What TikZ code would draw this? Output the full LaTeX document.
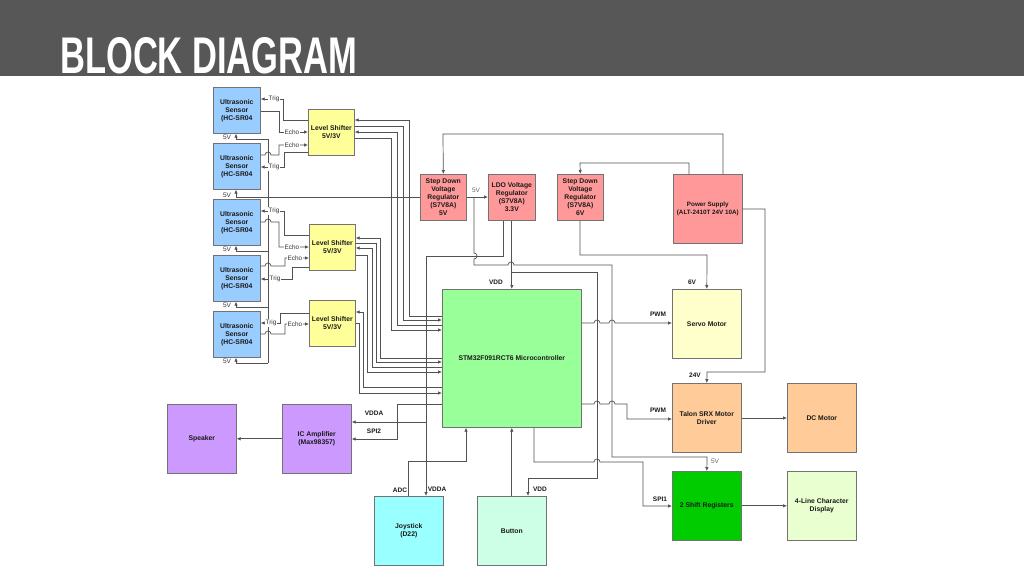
\documentclass[tikz,border=0pt]{standalone}
\usepackage{fontspec}
\setmainfont{Liberation Sans}
\usepackage{graphicx}
\usetikzlibrary{arrows.meta}
\definecolor{hdr}{HTML}{575757}
\definecolor{csens}{HTML}{99CCFF}
\definecolor{cls}{HTML}{FFFF99}
\definecolor{creg}{HTML}{FF9999}
\definecolor{cmcu}{HTML}{99FF99}
\definecolor{cservo}{HTML}{FFFFCC}
\definecolor{ctalon}{HTML}{FFCC99}
\definecolor{csr}{HTML}{00CC00}
\definecolor{cdisp}{HTML}{EAFFD0}
\definecolor{cjoy}{HTML}{99FFFF}
\definecolor{cbtn}{HTML}{CCFFE6}
\definecolor{camp}{HTML}{CC99FF}
\tikzset{
  blk/.style={draw=black!55, line width=0.6pt, anchor=north west, align=center,
    font=\fontsize{6.8}{8}\selectfont\bfseries, inner sep=1pt, text=black!90},
  sensbox/.style={blk, fill=csens, minimum width=47pt, minimum height=46pt},
  lsbox/.style={blk, fill=cls, minimum width=46pt, minimum height=46pt},
  regbox/.style={blk, fill=creg, minimum width=46pt, minimum height=46pt},
  bigbox/.style={blk, minimum width=69pt, minimum height=69pt},
  wire/.style={draw=black!68, line width=0.7pt},
  arr/.style={wire, -{Latex[length=4pt,width=3.5pt]}},
  lbl/.style={font=\fontsize{6.5}{7}\selectfont\bfseries, inner sep=0.5pt, text=black!90},
  sig/.style={font=\fontsize{6.4}{7}\selectfont, text=black!80, fill=white, inner sep=0.6pt},
  vlab/.style={font=\fontsize{6.5}{7}\selectfont, text=black!80, inner sep=0.5pt},
}
\begin{document}
\begin{tikzpicture}[x=1pt,y=-1pt]
\useasboundingbox (0,0) rectangle (1024,576);
\fill[white] (0,0) rectangle (1024,576);
\fill[hdr] (0,0) rectangle (1024,76);
\node[anchor=south west, inner sep=0, text=white] (title) at (60,74)
  {\resizebox{297pt}{36pt}{\bfseries BLOCK DIAGRAM}};

% sensors
\node[sensbox] (S1) at (213,87) {Ultrasonic\\Sensor\\(HC-SR04};
\node[sensbox] (S2) at (213,143) {Ultrasonic\\Sensor\\(HC-SR04};
\node[sensbox] (S3) at (213,199) {Ultrasonic\\Sensor\\(HC-SR04};
\node[sensbox] (S4) at (213,255) {Ultrasonic\\Sensor\\(HC-SR04};
\node[sensbox] (S5) at (213,311) {Ultrasonic\\Sensor\\(HC-SR04};
% level shifters
\node[lsbox] (LS1) at (308,109) {Level Shifter\\5V/3V};
\node[lsbox] (LS2) at (309,224) {Level Shifter\\5V/3V};
\node[lsbox] (LS3) at (309,300) {Level Shifter\\5V/3V};
% regulators
\node[regbox] (R5) at (420,174) {Step Down\\Voltage\\Regulator\\(S7V8A)\\5V};
\node[regbox, minimum width=47pt] (LDO) at (488,174) {LDO Voltage\\Regulator\\(S7V8A)\\3.3V};
\node[regbox] (R6) at (557,174) {Step Down\\Voltage\\Regulator\\(S7V8A)\\6V};
\node[bigbox, fill=creg, font=\fontsize{6.3}{8}\selectfont\bfseries] (PS) at (673,174) {Power Supply\\(ALT-2410T 24V 10A)};
% MCU
\node[blk, fill=cmcu, minimum width=139pt, minimum height=138pt] (MCU) at (442,289) {STM32F091RCT6 Microcontroller};
% right
\node[bigbox, fill=cservo] (Servo) at (672,289) {Servo Motor};
\node[bigbox, fill=ctalon] (Talon) at (672,383) {Talon SRX Motor\\Driver};
\node[bigbox, fill=ctalon] (DC) at (787,383) {DC Motor};
\node[bigbox, fill=csr] (SR) at (672,471) {2 Shift Registers};
\node[bigbox, fill=cdisp] (Disp) at (787,471) {4-Line Character\\Display};
% bottom
\node[bigbox, fill=cjoy] (Joy) at (374,496) {Joystick\\(D22)};
\node[bigbox, fill=cbtn] (Btn) at (477,496) {Button};
\node[bigbox, fill=camp] (Amp) at (282,404) {IC Amplifier\\(Max98357)};
\node[bigbox, fill=camp] (Spk) at (167,404) {Speaker};

% ---- sensor 5V bus
\draw[wire] (268,139) -- (268,363);
\foreach \s/\y in {S1/139,S3/251,S4/307,S5/363}{
  \draw[arr] (268,\y) -- (236,\y) -- (236,0 |- \s.south);
  \node[vlab] at (227,\y-2) {5V};
}
\draw[arr] (R5.west |- 0,197) -- (236,197) -- (236,0 |- S2.south);
\node[vlab] at (227,195) {5V};

% ---- trig / echo
\draw[arr] (LS1.west |- 0,120) -- (283,120) -- (283,99) -- (S1.east |- 0,99);
\node[sig] at (274,99) {Trig};
\draw[arr] (S1.east |- 0,111) -- (279,111) -- (279,132) -- (LS1.west |- 0,132);
\node[sig] at (292,132) {Echo};
\draw[arr] (S2.east |- 0,155) -- (265,155) arc[start angle=180,end angle=0,radius=3pt] -- (279,155) -- (279,145) -- (LS1.west |- 0,145);
\node[sig] at (292,145) {Echo};
\draw[arr] (LS1.west |- 0,152) -- (284,152) -- (284,167) -- (S2.east |- 0,167);
\node[sig] at (274,167) {Trig};

\draw[arr] (LS2.west |- 0,235) -- (284,235) -- (284,211) -- (S3.east |- 0,211);
\node[sig] at (274,211) {Trig};
\draw[arr] (S3.east |- 0,222) -- (265,222) arc[start angle=180,end angle=0,radius=3pt] -- (279,222) -- (279,247) -- (LS2.west |- 0,247);
\node[sig] at (292,247) {Echo};
\draw[arr] (S4.east |- 0,266) -- (265,266) arc[start angle=180,end angle=0,radius=3pt] -- (285,266) -- (285,258) -- (LS2.west |- 0,258);
\node[sig] at (295,258) {Echo};
\draw[arr] (LS2.west |- 0,267) -- (292,267) -- (292,279) -- (S4.east |- 0,279);
\node[sig] at (275,279) {Trig};

\draw[arr] (LS3.west |- 0,313) -- (280,313) -- (280,323) -- (S5.east |- 0,323);
\node[sig] at (271,323) {Trig};
\draw[arr] (S5.east |- 0,334) -- (265,334) arc[start angle=180,end angle=0,radius=3pt] -- (285,334) -- (285,324) -- (LS3.west |- 0,324);
\node[sig] at (295,324) {Echo};

% ---- level shifters to MCU
\draw[arr] (MCU.west |- 0,316) -- (409,316) -- (409,120) -- (LS1.east |- 0,120);
\draw[arr] (LS1.east |- 0,126) -- (403,126) -- (403,320) -- (MCU.west |- 0,320);
\draw[arr] (MCU.west |- 0,325) -- (397,325) -- (397,132) -- (LS1.east |- 0,132);
\draw[arr] (LS1.east |- 0,138) -- (391,138) -- (391,330) -- (MCU.west |- 0,330);

\draw[arr] (MCU.west |- 0,358) -- (380,358) -- (380,238) -- (LS2.east |- 0,238);
\draw[arr] (LS2.east |- 0,243) -- (376,243) -- (376,362) -- (MCU.west |- 0,362);
\draw[arr] (MCU.west |- 0,367) -- (372,367) -- (372,248) -- (LS2.east |- 0,248);
\draw[arr] (LS2.east |- 0,255) -- (367,255) -- (367,372) -- (MCU.west |- 0,372);

\draw[arr] (MCU.west |- 0,387) -- (363,387) -- (363,312) -- (LS3.east |- 0,312);
\draw[arr] (LS3.east |- 0,323) -- (359,323) -- (359,393) -- (MCU.west |- 0,393);

% ---- power
\draw[arr] (723,0 |- PS.north) -- (723,134) -- (443,134) -- (R5.north);
\draw[arr] (689,0 |- PS.north) -- (689,163) -- (580,163) -- (R6.north);
\draw[arr] (R5.east |- 0,197) -- (LDO.west |- 0,197);
\node[vlab, text=black!60] at (476,190) {5V};
\draw[arr] (474,197) -- (474,253) arc[start angle=90,end angle=-90,radius=3pt] -- (474,265)
  -- (508,265) arc[start angle=180,end angle=0,radius=3pt] -- (612,265) -- (612,457) -- (707,457) -- (SR.north);
\node[vlab, text=black!60] at (715,461) {5V};
\draw[arr] (503,0 |- LDO.south) -- (503,256) -- (426,256) -- (426,0 |- Joy.north);
\draw[arr] (426,422) -- (Amp.east |- 0,422);
\draw[arr] (MCU.north |- LDO.south) -- (MCU.north);
\node[lbl] at (496,282) {VDD};
\draw[arr] (511.5,272) -- (597,272) -- (597,478) -- (528,478) -- (528,0 |- Btn.north);
\node[lbl] at (540,489) {VDD};
\draw[arr] (580,0 |- R6.south) -- (580,255) -- (707,255) -- (Servo.north);
\node[lbl] at (692,282) {6V};
\draw[arr] (PS.east |- 0,209) -- (765,209) -- (765,372) -- (707,372) -- (Talon.north);
\node[lbl] at (695,375) {24V};

% ---- MCU signals
\draw[arr] (MCU.east |- 0,323) -- (594,323) arc[start angle=180,end angle=0,radius=3pt] -- (609,323) arc[start angle=180,end angle=0,radius=3pt] -- (Servo.west |- 0,323);
\node[lbl] at (658,314) {PWM};
\draw[arr] (MCU.east |- 0,404) -- (594,404) arc[start angle=180,end angle=0,radius=3pt] -- (609,404) arc[start angle=180,end angle=0,radius=3pt] -- (627,404) -- (627,419) -- (Talon.west |- 0,419);
\node[lbl] at (658,410) {PWM};
\draw[arr] (Talon.east |- 0,418) -- (DC.west |- 0,418);
\draw[arr] (534,0 |- MCU.south) -- (534,462) -- (594,462) arc[start angle=180,end angle=0,radius=3pt] -- (643,462) -- (643,506) -- (SR.west |- 0,506);
\node[lbl] at (660,499) {SPI1};
\draw[arr] (SR.east) -- (Disp.west);
\draw[arr] (MCU.west |- 0,404) -- (397,404) -- (397,439) -- (Amp.east |- 0,439);
\node[lbl] at (374,413) {VDDA};
\node[lbl] at (374,431) {SPI2};
\draw[arr] (Amp.west) -- (Spk.east);
\draw[arr] (408,0 |- Joy.north) -- (408,461) -- (466,461) -- (466,0 |- MCU.south);
\node[lbl] at (400,490) {ADC};
\node[lbl] at (437,489) {VDDA};
\draw[arr] (Btn.north) -- (MCU.south);
\end{tikzpicture}
\end{document}
